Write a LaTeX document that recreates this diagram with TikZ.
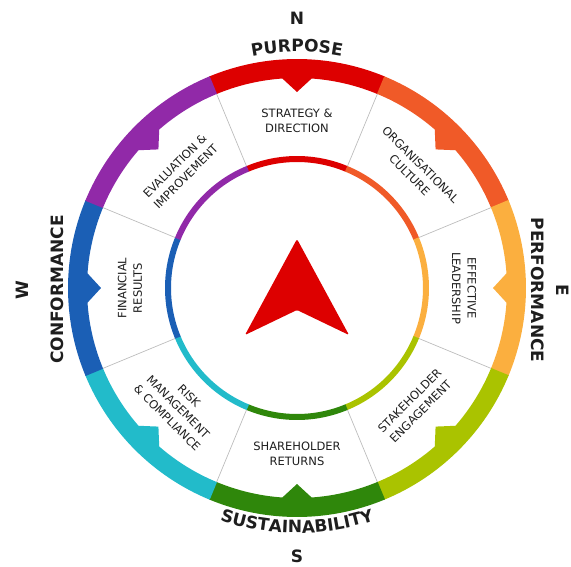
\documentclass[tikz,border=0pt]{standalone}
\usepackage{fontspec}
\setmainfont{DejaVu Sans}
\usetikzlibrary{decorations.text}
\definecolor{cRed}{HTML}{DD0000}
\definecolor{cOrange}{HTML}{F05A28}
\definecolor{cAmber}{HTML}{FBAF3F}
\definecolor{cLime}{HTML}{AAC300}
\definecolor{cGreen}{HTML}{2F870B}
\definecolor{cCyan}{HTML}{22BBCA}
\definecolor{cBlue}{HTML}{1B5FB5}
\definecolor{cPurple}{HTML}{9129A8}
\definecolor{txt}{HTML}{1E1E1E}
\definecolor{sepgray}{HTML}{BDBDBD}
\newcommand{\headfont}{\fontsize{17}{20}\selectfont\bfseries}
\tikzset{
  lbl/.style={font=\fontsize{11.5}{15.5}\selectfont, text=txt, align=center, inner sep=0pt},
  head/.style={font=\headfont, text=txt, inner sep=0pt},
  sepline/.style={draw=sepgray, line width=0.7pt}
}
\begin{document}
\begin{tikzpicture}
\useasboundingbox (-297pt,-278pt) rectangle (274pt,288pt);
% outer ring segments with inward pointers, inner ring segments
\foreach \a/\c in {90/cRed,45/cOrange,0/cAmber,-45/cLime,-90/cGreen,-135/cCyan,180/cBlue,135/cPurple}{
  \fill[\c] ({\a-22.6}:229pt) arc[start angle={\a-22.6}, end angle={\a+22.6}, radius=229pt]
    -- ({\a+22.6}:210pt) arc[start angle={\a+22.6}, end angle={\a+4}, radius=210pt]
    -- (\a:196pt) -- ({\a-4}:210pt)
    arc[start angle={\a-4}, end angle={\a-22.6}, radius=210pt] -- cycle;
  \draw[\c, line width=6pt] ({\a-22.6}:129pt) arc[start angle={\a-22.6}, end angle={\a+22.6}, radius=129pt];
}
% separators
\foreach \b in {22.5,67.5,112.5,157.5,202.5,247.5,292.5,337.5}{
  \draw[sepline] (\b:132pt) -- (\b:210pt);
}
% centre arrow
\fill[cRed, rounded corners=1.5pt] (0pt,49pt) -- (52pt,-47pt) -- (0pt,-22pt) -- (-52pt,-47pt) -- cycle;
% sector labels
\node[lbl] (strategy) at (90:167pt) {STRATEGY \&\\DIRECTION};
\node[lbl, rotate=-45] (culture) at (45:167pt) {ORGANISATIONAL\\CULTURE};
\node[lbl, rotate=-90] (leader) at (0:167pt) {EFFECTIVE\\LEADERSHIP};
\node[lbl, rotate=45] (stake) at (-45:167pt) {STAKEHOLDER\\ENGAGEMENT};
\node[lbl] (share) at (-90:166pt) {SHAREHOLDER\\RETURNS};
\node[lbl, rotate=-45] (risk) at (-135:168pt) {RISK\\MANAGEMENT\\\& COMPLIANCE};
\node[lbl, rotate=90] (fin) at (180:167pt) {FINANCIAL\\RESULTS};
\node[lbl, rotate=45] (eval) at (135:165pt) {EVALUATION \&\\IMPROVEMENT};
% headings
\path[decorate, decoration={text along path, text align=center, text color=txt, text={|\headfont|PURPOSE}}]
  (120:236pt) arc[start angle=120, end angle=60, radius=236pt];
\path[decorate, decoration={text along path, text align=center, text color=txt, text={|\headfont|SUSTAINABILITY}}]
  (240:245pt) arc[start angle=240, end angle=300, radius=245pt];
\node[head, rotate=-90] (perf) at (241pt,-2pt) {PERFORMANCE};
\node[head, rotate=90] (conf) at (-239.5pt,-1.5pt) {CONFORMANCE};
\node[head] (north) at (0pt,269.5pt) {N};
\node[head] (south) at (0pt,-268pt) {S};
\node[head, rotate=-90] (east) at (266pt,-2pt) {E};
\node[head, rotate=90] (west) at (-275pt,-2pt) {W};
\end{tikzpicture}
\end{document}
